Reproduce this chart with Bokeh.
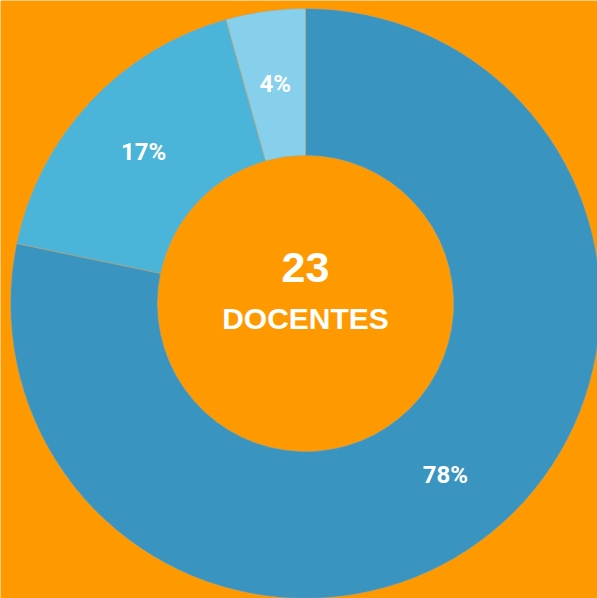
import math
from bokeh.plotting import figure
from bokeh.models import ColumnDataSource, Range1d
from bokeh.core.properties import value
from bokeh.embed import file_html
from bokeh.resources import INLINE

# data
categories = ["A", "B", "C"]
counts = [18, 4, 1]
labels = ["78%", "17%", "4%"]
colors = ["#3995C0", "#4BB4D9", "#86D0EC"]
total_label = "23"
center_label = "DOCENTES"

BG = "#FF9900"
W, H = 597, 598
cx, cy = 305, H - 303
R_OUT, R_IN = 295, 148

total = sum(counts)
starts, ends, lx, ly = [], [], [], []
cum = 0
for c in counts:
    a0 = math.pi / 2 - cum / total * 2 * math.pi
    cum += c
    a1 = math.pi / 2 - cum / total * 2 * math.pi
    starts.append(a0)
    ends.append(a1)
    mid = (a0 + a1) / 2
    rl = (R_OUT + R_IN) / 2
    lx.append(cx + rl * math.cos(mid))
    ly.append(cy + rl * math.sin(mid))

src = ColumnDataSource(dict(start=starts, end=ends, color=colors, lx=lx, ly=ly, label=labels))

p = figure(width=W, height=H, output_backend="svg", toolbar_location=None,
           x_range=Range1d(0, W), y_range=Range1d(0, H), min_border=0)
p.axis.visible = False
p.grid.visible = False
p.outline_line_color = None
p.background_fill_color = BG
p.border_fill_color = BG

p.annular_wedge(x=cx, y=cy, inner_radius=R_IN, outer_radius=R_OUT,
                start_angle="start", end_angle="end", direction="clock",
                fill_color="color", line_color="#B8A27A", line_width=0.6, source=src)

p.text(x="lx", y="ly", text="label", source=src, text_color="white",
       text_font=value("Roboto"), text_font_style="bold", text_font_size="24px",
       text_align="center", text_baseline="middle")

p.text(x=[cx], y=[cy + 36], text=[total_label], text_color="white",
       text_font=value("Liberation Sans"), text_font_style="bold", text_font_size="43px",
       text_align="center", text_baseline="middle")
p.text(x=[cx], y=[cy - 15], text=[center_label], text_color="white",
       text_font=value("Liberation Sans"), text_font_style="bold", text_font_size="30px",
       text_align="center", text_baseline="middle")

open("out.html", "w").write(file_html(p, INLINE))
